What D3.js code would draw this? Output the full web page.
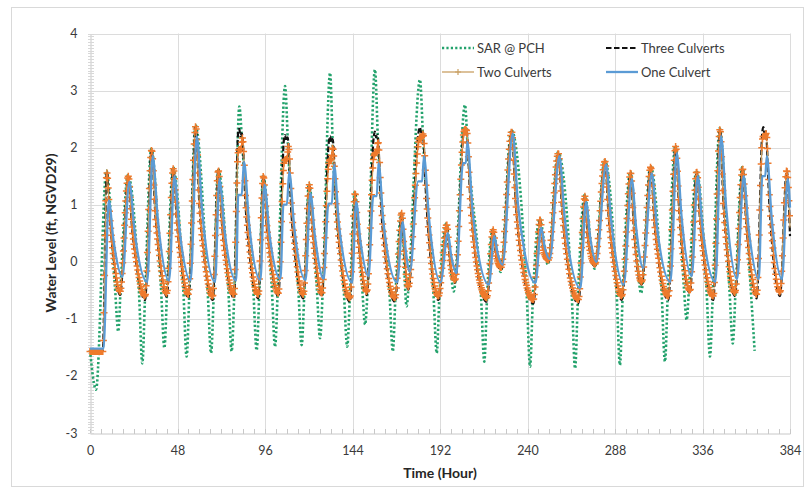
<!DOCTYPE html>
<html>
<head>
<meta charset="utf-8">
<script src="https://cdn.jsdelivr.net/npm/d3@7"></script>
<style>
  body { margin: 0; background: #fff; }
  text { font-family: Lato, "Open Sans", sans-serif; }
</style>
</head>
<body>
<div id="plot"></div>
<script>
var w = 808;
var h = 494;

// tick values
var xTicks = [0, 48, 96, 144, 192, 240, 288, 336, 384];
var yTicks = [-3, -2, -1, 0, 1, 2, 3, 4];

var seriesNames = ["SAR @ PCH", "Three Culverts", "Two Culverts", "One Culvert"];

// [hour, water level]
var sarPch = [
  [0, -1.55], [3.3, -2.24], [9, 1.6],
  [13.7, -0.45], [15.5, -1.22], [17, -0.3], [20.8, 1.52],
  [26.9, -0.55], [28.7, -1.78], [30.3, -0.5], [33.6, 1.98],
  [39, -0.5], [40.8, -1.51], [42.4, -0.4], [45.5, 1.66],
  [51.2, -0.5], [53, -1.66], [54.6, -0.45], [57.8, 2.4],
  [64.6, -0.55], [66.4, -1.6], [68, -0.45], [70.2, 1.63],
  [75.9, -0.5], [77.7, -1.57], [79.3, -0.4], [81.9, 2.72], [83.6, 2.0],
  [89.6, -0.5], [91.4, -1.55], [93, -0.4], [94.9, 1.52],
  [99.7, -0.45], [101.5, -1.49], [103.1, -0.4], [107, 3.08], [108.8, 1.9],
  [114.3, -0.5], [116.1, -1.46], [117.7, -0.45], [120.1, 1.37],
  [124.4, -0.45], [126.2, -1.34], [127.8, -0.4], [131.7, 3.31], [133.3, 1.9],
  [139.3, -0.55], [141.1, -1.49], [142.7, -0.5], [145.2, 1.22],
  [149.3, -0.45], [150.9, -1.1], [152.4, -0.4], [156.3, 3.37], [158.1, 2.0],
  [164.3, -0.55], [166.1, -1.57], [167.7, -0.5], [170.8, 0.87],
  [173.7, -0.78], [175.2, -0.2], [181, 3.19], [182.8, 2.1],
  [188.4, -0.55], [190.2, -1.6], [191.8, -0.5], [195.5, 0.67],
  [199.5, -0.52], [205.7, 2.75], [207.2, 2.0],
  [214.5, -0.6], [216.3, -1.75], [217.9, -0.55], [221, 0.57],
  [225.3, -0.18], [231.1, 2.31],
  [239.6, -0.6], [241.4, -1.84], [243, -0.6], [246.7, 0.76],
  [251.2, -0.05], [256.7, 1.92],
  [264.3, -0.6], [266.1, -1.87], [267.7, -0.6], [271.3, 1.17],
  [276.8, -0.12], [282.3, 1.78],
  [288.9, -0.55], [290.7, -1.81], [292.3, -0.5], [296.4, 1.58],
  [302.3, -0.55], [307.4, 1.68],
  [313.6, -0.55], [315.4, -1.75], [317, -0.5], [321.1, 2.04],
  [325.8, -0.45], [327.3, -1.02], [328.7, -0.4], [332.6, 1.6],
  [338.3, -0.55], [340.1, -1.66], [341.7, -0.5], [345.4, 2.34],
  [350.8, -0.5], [352.6, -1.43], [354.2, -0.45], [357.8, 1.66],
  [362.5, -0.5], [364.6, -1.56]
];

var threeCulverts = [
  [0, -1.55], [7, -1.55], [9.2, 1.58], [11, 0.72], [13, 0.05], [16.5, -0.58],
  [21, 1.5], [23, 0.62], [25.5, -0.05], [30.2, -0.67],
  [33.8, 1.96], [35.8, 0.85], [38, 0.1], [42.1, -0.61],
  [45.7, 1.64], [47.7, 0.68], [50, 0.0], [53.9, -0.64],
  [58, 2.37], [60, 1.0], [62.5, 0.12], [67.3, -0.67],
  [70.4, 1.61], [72.4, 0.66], [74.6, 0.0], [79, -0.64],
  [81.3, 2.28], [81.9, 2.33], [82.5, 2.2], [83.3, 2.25], [85.5, 0.9], [87.5, 0.15], [92.3, -0.64],
  [95.1, 1.5], [97, 0.62], [99.2, 0.0], [103.3, -0.61],
  [106.4, 2.15], [107, 2.22], [107.6, 2.12], [108.4, 2.18], [110.5, 0.85], [112.5, 0.12], [117, -0.64],
  [120.3, 1.35], [122, 0.55], [124, -0.05], [127.1, -0.61],
  [131.1, 2.12], [131.7, 2.2], [132.3, 2.1], [133.1, 2.15], [135.2, 0.85], [137.3, 0.1], [142.6, -0.7],
  [145.4, 1.2], [147, 0.45], [148.8, -0.1], [151.8, -0.58],
  [155.7, 2.2], [156.3, 2.28], [156.9, 2.18], [157.7, 2.22], [159.8, 0.9], [162, 0.1], [167.3, -0.7],
  [171, 0.85], [172.3, 0.2], [174.6, -0.49],
  [180.4, 2.3], [181, 2.36], [181.6, 2.27], [182.4, 2.3], [184.6, 1.0], [186.6, 0.15], [191.1, -0.67],
  [195.7, 0.65], [197.3, 0.05], [200.2, -0.37],
  [205.1, 2.3], [205.7, 2.34], [206.6, 2.3], [208.6, 1.1], [211, 0.2], [217.6, -0.7],
  [221.2, 0.57], [222.8, 0.1], [225.5, -0.14],
  [231.3, 2.29], [233.5, 1.05], [236, 0.2], [243.2, -0.73],
  [246.9, 0.74], [248.6, 0.2], [251.4, 0.0],
  [256.9, 1.9], [259, 0.9], [261.5, 0.1], [267.9, -0.73],
  [271.5, 1.15], [273, 0.45], [277, -0.08],
  [282.5, 1.76], [284.5, 0.8], [287, 0.05], [291.7, -0.67],
  [296.6, 1.56], [298.3, 0.6], [302.6, -0.4],
  [307.6, 1.66], [309.6, 0.7], [312, 0.0], [317.2, -0.67],
  [321.3, 2.02], [323.2, 0.9], [325.4, 0.05], [329.1, -0.55],
  [332.8, 1.58], [334.8, 0.65], [337, 0.0], [341.9, -0.67],
  [345.6, 2.32], [347.5, 1.0], [349.8, 0.1], [353.8, -0.6],
  [358, 1.64], [360, 0.68], [362, 0.0], [365.7, -0.64],
  [368.9, 2.3], [369.4, 2.36], [370, 2.25], [370.7, 2.28], [372.7, 1.0], [374.6, 0.15], [378.5, -0.6],
  [382.2, 1.6], [384, 0.45]
];

var twoCulverts = [
  [0, -1.57], [7, -1.57], [9.2, 1.56], [11, 0.72], [13, 0.08], [16.5, -0.52],
  [21, 1.5], [23, 0.64], [25.5, 0.0], [30.2, -0.6],
  [33.8, 1.96], [35.8, 0.87], [38, 0.14], [42.1, -0.55],
  [45.7, 1.63], [47.7, 0.7], [50, 0.04], [53.9, -0.57],
  [58, 2.37], [60, 1.02], [62.5, 0.16], [67.3, -0.6],
  [70.4, 1.6], [72.4, 0.68], [74.6, 0.04], [79, -0.57],
  [81.2, 1.9], [81.9, 1.97], [82.8, 1.97], [83.6, 2.17], [85.7, 0.92], [87.7, 0.19], [92.3, -0.57],
  [95.1, 1.5], [97, 0.64], [99.2, 0.04], [103.3, -0.55],
  [106.4, 1.72], [107, 1.79], [108, 1.8], [108.8, 2.02], [110.8, 0.86], [112.8, 0.16], [117, -0.57],
  [120.3, 1.35], [122, 0.57], [124, 0.0], [127.1, -0.55],
  [131, 1.72], [131.7, 1.79], [132.4, 1.8], [133.1, 2.0], [135.3, 0.86], [137.4, 0.14], [142.6, -0.63],
  [145.4, 1.2], [147, 0.47], [148.8, -0.06], [151.8, -0.52],
  [155.7, 1.85], [156.3, 1.9], [157.2, 1.92], [158, 2.1], [160, 0.92], [162.1, 0.14], [167.3, -0.63],
  [171, 0.85], [172.3, 0.22], [174.6, -0.44],
  [180.4, 2.12], [181, 2.17], [182, 2.18], [182.7, 2.24], [184.8, 1.02], [186.7, 0.19], [191.1, -0.6],
  [195.7, 0.65], [197.3, 0.08], [200.2, -0.32],
  [205.1, 2.27], [205.7, 2.32], [206.6, 2.3], [208.6, 1.12], [211, 0.24], [217.6, -0.63],
  [221.2, 0.56], [222.8, 0.12], [225.5, -0.1],
  [231.3, 2.28], [233.5, 1.07], [236, 0.24], [243.2, -0.66],
  [246.9, 0.74], [248.6, 0.22], [251.4, 0.03],
  [256.9, 1.9], [259, 0.92], [261.5, 0.14], [267.9, -0.66],
  [271.5, 1.15], [273, 0.47], [277, -0.04],
  [282.5, 1.76], [284.5, 0.82], [287, 0.09], [291.7, -0.6],
  [296.6, 1.56], [298.3, 0.62], [302.6, -0.35],
  [307.6, 1.66], [309.6, 0.72], [312, 0.04], [317.2, -0.6],
  [321.3, 2.02], [323.2, 0.92], [325.4, 0.09], [329.1, -0.5],
  [332.8, 1.58], [334.8, 0.67], [337, 0.04], [341.9, -0.6],
  [345.6, 2.32], [347.5, 1.02], [349.8, 0.14], [353.8, -0.54],
  [358, 1.63], [360, 0.7], [362, 0.04], [365.7, -0.57],
  [368.9, 2.15], [369.4, 2.2], [370.2, 2.2], [370.9, 2.25], [372.9, 1.02], [374.8, 0.19], [378.5, -0.53],
  [382.2, 1.6], [384, 0.6]
];

var oneCulvert = [
  [0, -1.52], [7.4, -1.52], [10.3, 1.08], [12.8, 0.4], [17.8, -0.26],
  [21.6, 1.4], [24.4, 0.55], [31.4, -0.35],
  [34.4, 1.85], [37.2, 0.75], [43.4, -0.33],
  [46.3, 1.5], [49, 0.6], [55.2, -0.33],
  [58.6, 2.2], [61.5, 0.9], [68.6, -0.35],
  [71, 1.45], [73.8, 0.55], [80.2, -0.33],
  [81.3, 1.17], [83.2, 1.17], [84.5, 1.75], [87.2, 0.7], [93.5, -0.32],
  [95.7, 1.35], [98.4, 0.5], [104.5, -0.3],
  [106.1, 1.0], [108, 1.0], [109.3, 1.58], [112, 0.62], [118.3, -0.32],
  [120.9, 1.2], [123.4, 0.45], [128.2, -0.3],
  [130.8, 1.02], [132.7, 1.02], [133.9, 1.7], [136.6, 0.65], [143.8, -0.36],
  [146, 1.05], [148.3, 0.38], [152.8, -0.25],
  [155.4, 1.15], [157.3, 1.15], [158.3, 1.73], [161, 0.68], [168.5, -0.36],
  [171.6, 0.7], [173.2, 0.2], [175.5, -0.17],
  [180, 1.41], [182.2, 1.41], [183.2, 1.85], [186, 0.75], [192.3, -0.36],
  [196.3, 0.5], [198.2, 0.1], [201, -0.2],
  [204.6, 1.73], [206.2, 1.73], [207, 2.1], [210, 0.85], [218.8, -0.4],
  [221.8, 0.45], [223.6, 0.15], [226.3, -0.05],
  [231.9, 2.25], [234.8, 1.0], [238.5, 0.15], [244.4, -0.37],
  [247.5, 0.6], [249.5, 0.25], [252.2, 0.05],
  [257.5, 1.85], [260.3, 0.8], [269, -0.46],
  [272.1, 1.05], [274.3, 0.45], [277.8, 0.0],
  [283.1, 1.7], [285.8, 0.75], [292.8, -0.4],
  [297.2, 1.45], [299.6, 0.6], [303.5, -0.11],
  [308.2, 1.55], [310.9, 0.65], [318.4, -0.35],
  [321.9, 1.9], [324.5, 0.8], [330.1, -0.25],
  [333.4, 1.5], [336, 0.6], [343.1, -0.35],
  [346.2, 2.2], [349, 0.95], [355, -0.3],
  [358.6, 1.5], [361.2, 0.62], [366.9, -0.3],
  [368.8, 1.5], [370.4, 1.5], [371.3, 1.85], [374, 0.75], [379.6, -0.3],
  [382.8, 1.45], [384, 0.95]
];

var green = "#23a26c";
var orange = "#ee7a2c";
var tan = "#c9a063";
var blue = "#5b9bd5";

var xScale = d3.scaleLinear().domain([0, 384]).range([90, 790]);
var yScale = d3.scaleLinear().domain([-3, 4]).range([433, 33.5]);

var svg = d3.select("#plot").append("svg").attr("width", w).attr("height", h);

// chart border
svg.append("rect")
  .attr("x", 11.5).attr("y", 7.5)
  .attr("width", 792).attr("height", 479)
  .attr("fill", "#fff")
  .attr("stroke", "#d9d9d9");

// gridlines
svg.append("g")
  .selectAll("line")
  .data(yTicks.slice(1))
  .enter()
  .append("line")
  .attr("x1", xScale(0)).attr("x2", xScale(384))
  .attr("y1", (d) => Math.round(yScale(d)) + 0.5)
  .attr("y2", (d) => Math.round(yScale(d)) + 0.5)
  .attr("stroke", "#dcdcdc");

svg.append("g")
  .selectAll("line")
  .data(xTicks.slice(1))
  .enter()
  .append("line")
  .attr("x1", (d) => Math.round(xScale(d)) + 0.5)
  .attr("x2", (d) => Math.round(xScale(d)) + 0.5)
  .attr("y1", yScale(4)).attr("y2", yScale(-3))
  .attr("stroke", "#dcdcdc");

// axes
var xAxis = d3.axisBottom(xScale).tickValues(xTicks).tickSize(0).tickPadding(13)
  .tickFormat((d) => String(d));
var yAxis = d3.axisLeft(yScale).tickValues(yTicks).tickSize(0).tickPadding(13)
  .tickFormat((d) => String(d));

var gx = svg.append("g")
  .attr("transform", "translate(0," + (Math.round(yScale(-3)) + 0.5) + ")")
  .call(xAxis);
var gy = svg.append("g")
  .attr("transform", "translate(" + (Math.round(xScale(0)) + 0.5) + ",0)")
  .call(yAxis);

[gx, gy].forEach(function (g) {
  g.select(".domain").attr("stroke", "#c8c8c8");
  g.selectAll("text")
    .attr("font-family", "Lato, sans-serif")
    .attr("font-size", "12.5px")
    .attr("fill", "#3a3a3a");
});

// minor ticks
var xMinor = d3.range(0, 385, 6);
svg.append("g")
  .selectAll("line")
  .data(xMinor)
  .enter()
  .append("line")
  .attr("x1", (d) => Math.round(xScale(d)) + 0.5)
  .attr("x2", (d) => Math.round(xScale(d)) + 0.5)
  .attr("y1", yScale(-3) - 4).attr("y2", yScale(-3) + 1)
  .attr("stroke", "#c8c8c8");

var yMinor = d3.range(-3, 4.001, 0.05);
svg.append("g")
  .selectAll("line")
  .data(yMinor)
  .enter()
  .append("line")
  .attr("x1", xScale(0) - 2).attr("x2", xScale(0) + 4)
  .attr("y1", (d) => Math.round(yScale(d)) + 0.5)
  .attr("y2", (d) => Math.round(yScale(d)) + 0.5)
  .attr("stroke", "#d8d8d8");

// axis titles
svg.append("text")
  .attr("x", 440).attr("y", 478)
  .attr("text-anchor", "middle")
  .attr("font-size", "14px").attr("font-weight", "bold")
  .attr("fill", "#262626")
  .text("Time (Hour)");

svg.append("text")
  .attr("transform", "translate(56,233) rotate(-90)")
  .attr("text-anchor", "middle")
  .attr("font-size", "14px").attr("font-weight", "bold")
  .attr("fill", "#262626")
  .text("Water Level (ft, NGVD29)");

// series
var line = d3.line()
  .x((d) => xScale(d[0]))
  .y((d) => yScale(d[1]))
  .curve(d3.curveMonotoneX);

var lines = svg.append("g");

lines.append("path")
  .datum(sarPch)
  .attr("d", line)
  .attr("fill", "none")
  .attr("stroke", green)
  .attr("stroke-width", 2.6)
  .attr("stroke-dasharray", "2.2,2.2");

lines.append("path")
  .datum(threeCulverts)
  .attr("d", line)
  .attr("fill", "none")
  .attr("stroke", "#111")
  .attr("stroke-width", 2.2)
  .attr("stroke-dasharray", "5.5,2.5");

var twoD = line(twoCulverts);

lines.append("path")
  .attr("d", twoD)
  .attr("fill", "none")
  .attr("stroke", tan)
  .attr("stroke-width", 1.3);

// "+" markers along the two culverts line, evenly spaced in x like the model output.
// walk the bezier segments of the drawn path
var cmds = twoD.match(/[MLC][^MLC]*/g);
var cur = [0, 0];
var nextX = -Infinity;
var markD = "";
function addMark(px, py) {
  if (px >= nextX) {
    markD += "M" + (px - 3.5).toFixed(1) + "," + py.toFixed(1) + "h7" +
      "M" + px.toFixed(1) + "," + (py - 3.5).toFixed(1) + "v7";
    nextX = px + 0.6;
  }
}
cmds.forEach(function (c) {
  var v = c.slice(1).split(/[ ,]+/).filter((s) => s.length).map(Number);
  var type = c[0];
  if (type == "M") {
    cur = [v[0], v[1]];
    addMark(cur[0], cur[1]);
  } else if (type == "L") {
    for (var i = 1; i <= 60; i++) {
      var t = i / 60;
      addMark(cur[0] + (v[0] - cur[0]) * t, cur[1] + (v[1] - cur[1]) * t);
    }
    cur = [v[0], v[1]];
  } else {
    for (var j = 1; j <= 80; j++) {
      var s = j / 80, u = 1 - s;
      var bx = u * u * u * cur[0] + 3 * u * u * s * v[0] + 3 * u * s * s * v[2] + s * s * s * v[4];
      var by = u * u * u * cur[1] + 3 * u * u * s * v[1] + 3 * u * s * s * v[3] + s * s * s * v[5];
      addMark(bx, by);
    }
    cur = [v[4], v[5]];
  }
});

lines.append("path")
  .attr("d", markD)
  .attr("fill", "none")
  .attr("stroke", orange)
  .attr("stroke-width", 1.5);

lines.append("path")
  .datum(oneCulvert)
  .attr("d", line)
  .attr("fill", "none")
  .attr("stroke", blue)
  .attr("stroke-width", 2.3);

// legend
var legendItems = [
  { name: seriesNames[0], x: 442, y: 48, color: green, width: 2.6, dash: "2.2,2.2" },
  { name: seriesNames[1], x: 606, y: 48, color: "#111", width: 2.2, dash: "5.5,2.5" },
  { name: seriesNames[2], x: 442, y: 72, color: tan, width: 1.3, dash: null },
  { name: seriesNames[3], x: 606, y: 72, color: blue, width: 2.3, dash: null }
];

var legend = svg.append("g")
  .selectAll("g")
  .data(legendItems)
  .enter()
  .append("g")
  .attr("transform", (d) => "translate(" + d.x + "," + d.y + ")");

legend.append("line")
  .attr("x1", 0).attr("x2", 32)
  .attr("stroke", (d) => d.color)
  .attr("stroke-width", (d) => d.width)
  .attr("stroke-dasharray", (d) => d.dash);

legend.filter((d) => d.name == "Two Culverts")
  .append("path")
  .attr("d", "M13,0H19M16,-3V3")
  .attr("stroke", tan)
  .attr("stroke-width", 1.2);

legend.append("text")
  .attr("x", 35).attr("y", 4.5)
  .attr("font-size", "13px")
  .attr("fill", "#3a3a3a")
  .text((d) => d.name);
</script>
</body>
</html>
